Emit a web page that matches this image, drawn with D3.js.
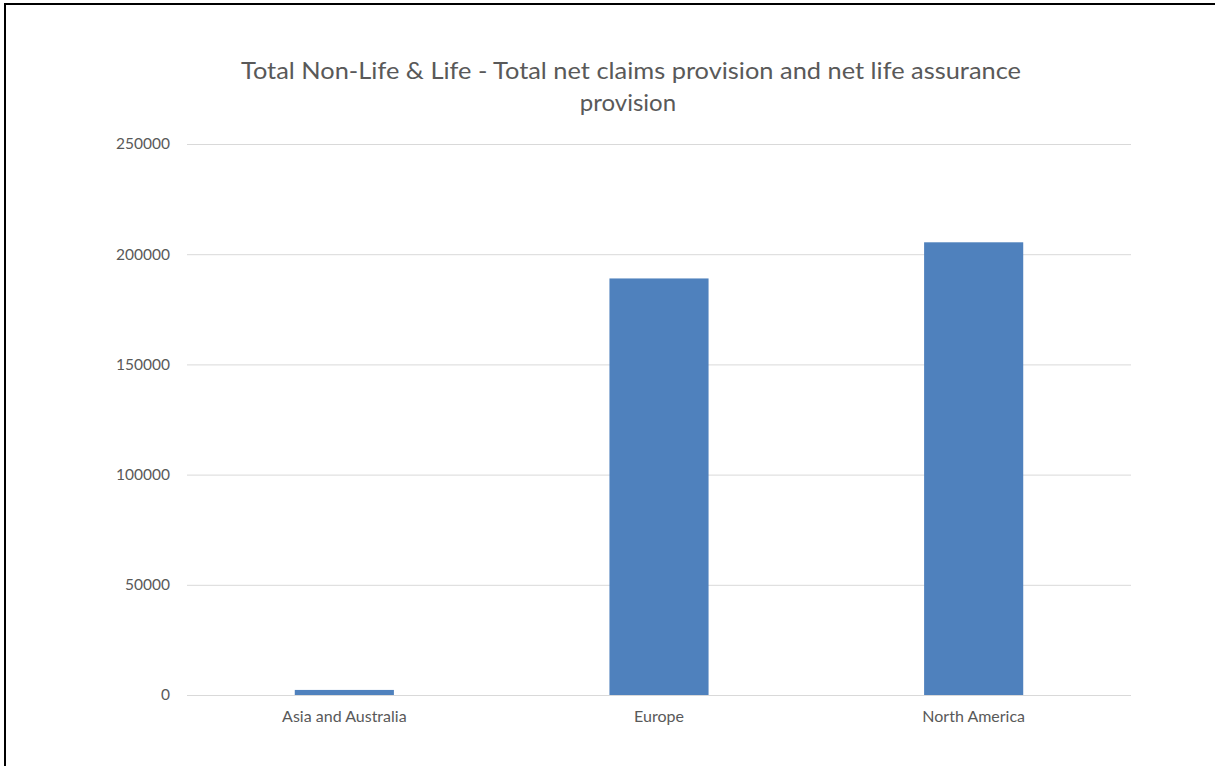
<!DOCTYPE html>
<html><head><meta charset="utf-8">
<script src="https://cdn.jsdelivr.net/npm/d3@7"></script>
<style>body{margin:0;background:#fff}svg{display:block}</style>
</head><body>
<svg id="c" width="1215" height="766"></svg>
<script>
const categories = ["Asia and Australia", "Europe", "North America"];
const values = [2300, 189000, 205400];
const yTicks = [0, 50000, 100000, 150000, 200000, 250000];
const titleLines = ["Total Non-Life & Life - Total net claims provision and net life assurance", "provision"];

const svg = d3.select("#c");
const W = 1215, H = 766;
const m = {left: 187, right: 1131, top: 144, bottom: 695};
svg.append("rect").attr("width", W).attr("height", H).attr("fill", "#fff");
// frame lines (left and top)
svg.append("line").attr("x1", 5).attr("x2", 5).attr("y1", 3).attr("y2", H).attr("stroke", "#000").attr("stroke-width", 2);
svg.append("line").attr("x1", 4).attr("x2", W).attr("y1", 4).attr("y2", 4).attr("stroke", "#000").attr("stroke-width", 2);

const x = d3.scaleBand().domain(categories).range([m.left, m.right]).paddingInner(0.685).paddingOuter(0.3425);
const y = d3.scaleLinear().domain([0, 250000]).range([m.bottom, m.top]);

const font = "Lato, 'Open Sans', sans-serif";
// gridlines
const yAxis = d3.axisLeft(y).tickValues(yTicks).tickSize(-(m.right - m.left)).tickPadding(17).tickFormat(d3.format("d"));
const gy = svg.append("g").attr("transform", `translate(${m.left},0)`).call(yAxis);
gy.select(".domain").remove();
gy.selectAll(".tick line").attr("stroke", "#d9d9d9").attr("stroke-width", 1);
gy.selectAll(".tick text").attr("fill", "#595959").attr("font-size", 15.5).attr("font-family", font);

// bars
svg.append("g").selectAll("rect").data(values).join("rect")
  .attr("x", (d, i) => x(categories[i]))
  .attr("width", x.bandwidth())
  .attr("y", d => y(d))
  .attr("height", d => y(0) - y(d))
  .attr("fill", "#4f81bd");

// x axis
const xAxis = d3.axisBottom(x).tickSize(0).tickPadding(16);
const gx = svg.append("g").attr("transform", `translate(0,${m.bottom})`).call(xAxis);
gx.select(".domain").remove();
gx.selectAll(".tick text").attr("fill", "#595959").attr("font-size", 16).attr("font-family", font);

// title
const t = svg.append("g").attr("font-family", font).attr("fill", "#595959").attr("font-size", 24).attr("text-anchor", "middle");
t.append("text").attr("x", 631).attr("y", 79).attr("textLength", 780).attr("lengthAdjust", "spacingAndGlyphs").text(titleLines[0]);
t.append("text").attr("x", 628).attr("y", 111).text(titleLines[1]);
</script>
</body></html>
